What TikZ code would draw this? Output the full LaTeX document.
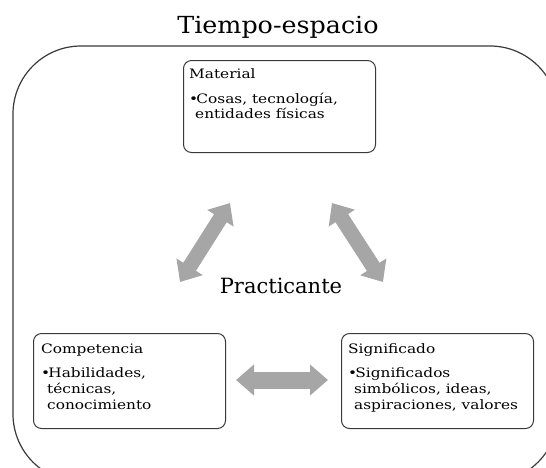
\documentclass[tikz,border=0pt]{standalone}
\usepackage{fontspec}
\setmainfont{DejaVu Serif}
\newfontfamily\bodyfont[FakeStretch=1.18]{DejaVu Serif}
\newfontfamily\titlefont[FakeStretch=1.08]{DejaVu Serif}
\usetikzlibrary{arrows.meta}
\definecolor{arrowgray}{HTML}{A6A6A6}
\definecolor{framegray}{HTML}{3A3A3A}
\newcommand\mybul{•\kern-1.8pt}
\newcommand\myind{\hspace*{6pt}}
\tikzset{
  boxstyle/.style={draw=framegray, line width=1pt, rounded corners=8pt, inner sep=0pt, anchor=north west},
  bodytext/.style={anchor=base west, inner sep=0pt, font=\bodyfont\fontsize{13}{16}\selectfont},
  dblarrow/.style={draw=arrowgray, line width=15pt, line cap=butt,
    {Triangle[width=30pt,length=18pt]}-{Triangle[width=30pt,length=18pt]}},
}
\begin{document}
\begin{tikzpicture}[x=1pt,y=-1pt]
\useasboundingbox (0,0) rectangle (546,467);
% outer frame
\begin{scope}
\clip (0,0) rectangle (546,467);
\draw[framegray, line width=1.2pt, rounded corners=68pt] (13,46) rectangle (558,482);
\end{scope}
\node[anchor=base, inner sep=0pt, font=\titlefont\fontsize{23.5}{28}\selectfont] (title) at (278,33) {Tiempo-espacio};
% boxes
\node[boxstyle, minimum width=192pt, minimum height=92pt] (mat) at (183,60) {};
\node[boxstyle, minimum width=192pt, minimum height=95pt] (comp) at (33,333) {};
\node[boxstyle, minimum width=192pt, minimum height=95pt] (sig) at (341,333) {};
% texts
\node[bodytext] (matH) at (189,78) {Material};
\node[bodytext] (matA) at (189,103) {\mybul Cosas, tecnología,};
\node[bodytext] (matB) at (189,118) {\myind entidades físicas};
\node[bodytext] (compH) at (41,353) {Competencia};
\node[bodytext] (compA) at (41,377) {\mybul Habilidades,};
\node[bodytext] (compB) at (41,393) {\myind técnicas,};
\node[bodytext] (compC) at (41,409) {\myind conocimiento};
\node[bodytext] (sigH) at (348,353) {Significado};
\node[bodytext] (sigA) at (348,377) {\mybul Significados};
\node[bodytext] (sigB) at (348,393) {\myind simbólicos, ideas,};
\node[bodytext] (sigC) at (348,409) {\myind aspiraciones, valores};
\node[anchor=base, inner sep=0pt, font=\fontsize{21}{25}\selectfont] (prac) at (281,293) {Practicante};
% arrows
\coordinate (la) at (180,282);
\coordinate (lb) at (230,203);
\coordinate (ra) at (332,203);
\coordinate (rb) at (383,282);
\coordinate (ha) at (236,380);
\coordinate (hb) at (328,380);
\draw[dblarrow] (la) -- (lb);
\draw[dblarrow] (ra) -- (rb);
\draw[dblarrow, line width=17pt] (ha) -- (hb);
\end{tikzpicture}
\end{document}
